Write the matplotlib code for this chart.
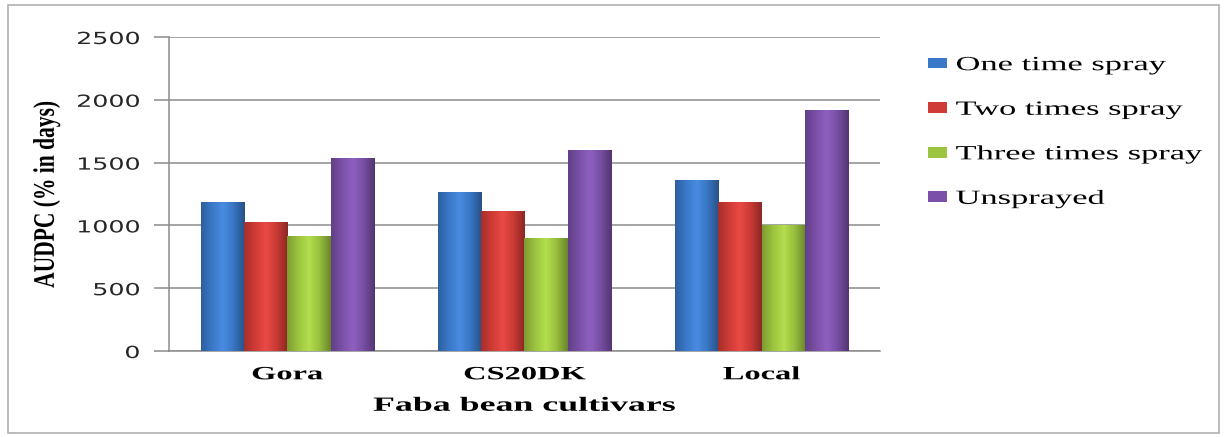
import numpy as np
import matplotlib.pyplot as plt
from matplotlib.colors import LinearSegmentedColormap, to_rgb
from matplotlib.patches import Rectangle
from matplotlib.patheffects import AbstractPathEffect
from matplotlib.transforms import Affine2D

cultivars = ['Gora', 'CS20DK', 'Local']
series = ['One time spray', 'Two times spray', 'Three times spray', 'Unsprayed']
one_time = [1190, 1265, 1358]
two_times = [1025, 1115, 1190]
three_times = [915, 900, 1003]
unsprayed = [1540, 1600, 1922]
colors = ['#3a78c8', '#cf3b36', '#9cc43f', '#7a50a8']

values = [one_time, two_times, three_times, unsprayed]


class Stretch(AbstractPathEffect):
    # widen (or narrow) text along its own baseline, the reference is squashed
    def __init__(self, sx, anchor='center'):
        super().__init__()
        self.sx, self.anchor = sx, anchor

    def draw_path(self, renderer, gc, tpath, affine, rgbFace=None):
        ext = tpath.get_extents()
        cx = {'left': 0.0, 'center': (ext.x0 + ext.x1) / 2, 'right': ext.x1}[self.anchor]
        pre = Affine2D().translate(-cx, 0).scale(self.sx, 1).translate(cx, 0)
        renderer.draw_path(gc, tpath, pre + affine, rgbFace)


fig = plt.figure(figsize=(12.26, 4.37), dpi=100)
ax = fig.add_axes([0.1378, 0.1968, 0.58, 0.7185])

# outer frame of the chart area
fig.patches.append(Rectangle((8 / 1226, 1 - 433 / 437), 1211 / 1226, 428 / 437,
                             transform=fig.transFigure, fill=False,
                             edgecolor='#b0b0b0', lw=1.2))

x = np.arange(len(cultivars))
w = 0.183
offsets = (np.arange(4) - 1.5) * w


def shade(c):
    base = np.array(to_rgb(c))
    light = np.clip(base * 1.08 + 0.04, 0, 1)
    return LinearSegmentedColormap.from_list(
        'g', [base * 0.8, base * 1.0, light, base * 0.97, base * 0.68])


for i in range(4):
    bars = ax.bar(x + offsets[i], values[i], w, color=colors[i], label=series[i],
                  edgecolor='none', zorder=3)
    cmap = shade(colors[i])
    grad = np.linspace(0, 1, 64).reshape(1, -1)
    for b in bars:
        x0, y0 = b.get_x(), b.get_y()
        im = ax.imshow(grad, cmap=cmap, aspect='auto', zorder=3.5,
                       extent=(x0, x0 + b.get_width(), y0, y0 + b.get_height()))
        im.set_clip_path(b)

ax.set_xlim(-0.5, 2.5)
ax.set_ylim(0, 2500)
ax.set_yticks([0, 500, 1000, 1500, 2000, 2500])
ax.yaxis.grid(True, color='#8c8c8c', lw=1.1, zorder=0)
ax.set_axisbelow(True)
for s in ['top', 'right']:
    ax.spines[s].set_visible(False)
for s in ['left', 'bottom']:
    ax.spines[s].set_color('#8c8c8c')
    ax.spines[s].set_linewidth(1.1)
ax.tick_params(axis='y', length=11, color='#8c8c8c', width=1.1, labelsize=12,
               pad=10, labelcolor='#262626')
ax.tick_params(axis='x', length=0, pad=11)
ax.set_xticks(x)
ax.set_xticklabels(cultivars, fontfamily='Liberation Serif', fontweight='bold',
                   fontsize=13.5)
for t in ax.get_yticklabels():
    t.set_fontfamily('DejaVu Sans')
    t.set_path_effects([Stretch(1.52, 'right')])
for t in ax.get_xticklabels():
    t.set_path_effects([Stretch(1.73)])

xl = ax.set_xlabel('Faba bean cultivars', fontfamily='Liberation Serif',
                   fontweight='bold', fontsize=14.5, labelpad=9)
xl.set_path_effects([Stretch(1.78)])
yl = ax.set_ylabel('AUDPC (% in days)', fontfamily='Liberation Serif',
                   fontweight='bold', fontsize=21.5)
yl.set_path_effects([Stretch(0.72)])
ax.yaxis.set_label_coords(-0.153, 0.5)

leg = ax.legend(loc='upper left', bbox_to_anchor=(1.068, 0.939), frameon=False,
                prop={'family': 'Liberation Serif', 'size': 14.5},
                handlelength=0.9, handleheight=0.45, handletextpad=0.45,
                labelspacing=1.27, borderpad=0, borderaxespad=0)
for t in leg.get_texts():
    t.set_path_effects([Stretch(1.71, 'left')])

fig.savefig('out.png', dpi=100)
